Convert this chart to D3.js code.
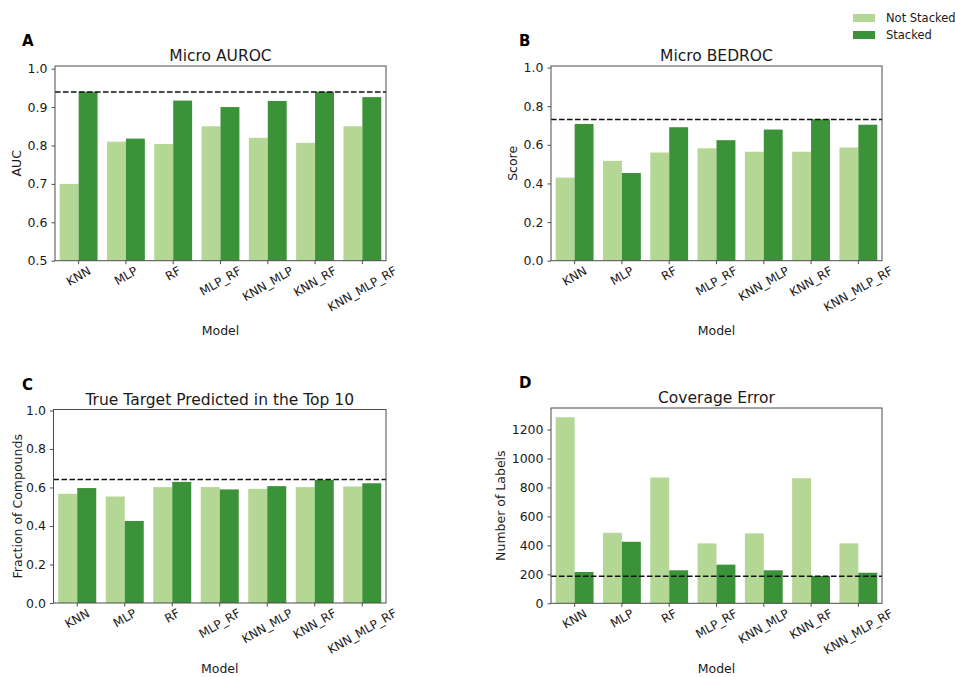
<!DOCTYPE html>
<html>
<head>
<meta charset="utf-8">
<script src="https://cdn.jsdelivr.net/npm/d3@7"></script>
<style>
  html, body { margin: 0; padding: 0; background: #fff; }
  svg { display: block; font-family: "DejaVu Sans", sans-serif; }
</style>
</head>
<body>
<svg id="chart" width="955" height="677"></svg>
<script>
// ---------- data ----------
const models = ["KNN", "MLP", "RF", "MLP_RF", "KNN_MLP", "KNN_RF", "KNN_MLP_RF"];
const seriesNames = ["Not Stacked", "Stacked"];

const aurocNotStacked = [0.700, 0.810, 0.804, 0.850, 0.820, 0.807, 0.850];
const aurocStacked    = [0.940, 0.818, 0.917, 0.900, 0.916, 0.940, 0.926];
const aurocRef = 0.939;

const bedrocNotStacked = [0.430, 0.517, 0.560, 0.582, 0.564, 0.564, 0.586];
const bedrocStacked    = [0.708, 0.454, 0.691, 0.624, 0.679, 0.732, 0.704];
const bedrocRef = 0.731;

const top10NotStacked = [0.567, 0.553, 0.602, 0.602, 0.593, 0.602, 0.605];
const top10Stacked    = [0.597, 0.426, 0.629, 0.590, 0.607, 0.640, 0.622];
const top10Ref = 0.641;

const coverageNotStacked = [1285, 487, 869, 414, 483, 864, 414];
const coverageStacked    = [216, 425, 228, 267, 228, 189, 211];
const coverageRef = 186;

const aurocTicks = [0.5, 0.6, 0.7, 0.8, 0.9, 1.0];
const fracTicks = [0.0, 0.2, 0.4, 0.6, 0.8, 1.0];
const coverageTicks = [0, 200, 400, 600, 800, 1000, 1200];

// ---------- styling / layout ----------
const colors = ["#b4d796", "#3c9239"];
const svg = d3.select("#chart");

const panels = [
  { letter: "A", title: "Micro AUROC", ylabel: "AUC", ns: aurocNotStacked, st: aurocStacked, ref: aurocRef,
    domain: [0.5, 1.007], ticks: aurocTicks, fmt: d3.format(".1f"),
    left: 55, right: 386, top: 66, bottom: 260.7, ylabelX: 17 },
  { letter: "B", title: "Micro BEDROC", ylabel: "Score", ns: bedrocNotStacked, st: bedrocStacked, ref: bedrocRef,
    domain: [0, 1.008], ticks: fracTicks, fmt: d3.format(".1f"),
    left: 551, right: 882, top: 66, bottom: 260.7, ylabelX: 513 },
  { letter: "C", title: "True Target Predicted in the Top 10", ylabel: "Fraction of Compounds", ns: top10NotStacked, st: top10Stacked, ref: top10Ref,
    domain: [0, 1.005], ticks: fracTicks, fmt: d3.format(".1f"),
    left: 53.5, right: 386, top: 409.5, bottom: 603, ylabelX: 17 },
  { letter: "D", title: "Coverage Error", ylabel: "Number of Labels", ns: coverageNotStacked, st: coverageStacked, ref: coverageRef,
    domain: [0, 1349], ticks: coverageTicks, fmt: d3.format("d"),
    left: 551, right: 882, top: 408, bottom: 603.3, ylabelX: 500.7 }
];

const textColor = "#1a1a1a";
const spineColor = "#4d4d4d";

panels.forEach(p => {
  const g = svg.append("g");
  const x = d3.scaleBand().domain(models).range([p.left, p.right]).paddingInner(0.2).paddingOuter(0.1);
  const xs = d3.scaleBand().domain(seriesNames).range([0, x.bandwidth()]);
  const y = d3.scaleLinear().domain(p.domain).range([p.bottom, p.top]);

  // bars
  const rows = models.map((m, i) => ({ m, vals: [p.ns[i], p.st[i]] }));
  const grp = g.selectAll("g.grp").data(rows).join("g").attr("class", "grp")
    .attr("transform", d => `translate(${x(d.m)},0)`);
  grp.selectAll("rect").data(d => d.vals.map((v, k) => ({ v, k })))
    .join("rect")
    .attr("x", d => xs(seriesNames[d.k]))
    .attr("width", xs.bandwidth())
    .attr("y", d => y(d.v))
    .attr("height", d => y(p.domain[0]) - y(d.v))
    .attr("fill", d => colors[d.k]);

  // reference dashed line
  g.append("line")
    .attr("x1", p.left).attr("x2", p.right)
    .attr("y1", y(p.ref)).attr("y2", y(p.ref))
    .attr("stroke", "#111").attr("stroke-width", 1.5)
    .attr("stroke-dasharray", "5.5,2.5");

  // frame
  g.append("rect")
    .attr("x", p.left).attr("y", p.top)
    .attr("width", p.right - p.left).attr("height", p.bottom - p.top)
    .attr("fill", "none").attr("stroke", spineColor).attr("stroke-width", 1);

  // y axis
  const yAxis = d3.axisLeft(y).tickValues(p.ticks).tickFormat(p.fmt).tickSize(3.5).tickPadding(4);
  const ya = g.append("g").attr("transform", `translate(${p.left},0)`).call(yAxis);
  ya.select(".domain").remove();
  ya.selectAll(".tick line").attr("stroke", spineColor);
  ya.selectAll(".tick text").attr("font-size", 12.5).attr("fill", textColor)
    .attr("font-family", "DejaVu Sans, sans-serif");

  // x axis ticks
  const xa = g.append("g").attr("transform", `translate(0,${p.bottom})`)
    .call(d3.axisBottom(x).tickSize(3.5).tickFormat(""));
  xa.select(".domain").remove();
  xa.selectAll(".tick line").attr("stroke", spineColor);

  // rotated x tick labels (centered rotated bbox under tick)
  const fs = 12;
  const ang = 30 * Math.PI / 180;
  models.forEach(m => {
    const t = g.append("text").text(m)
      .attr("font-size", fs).attr("fill", textColor)
      .attr("text-anchor", "middle").attr("dominant-baseline", "central");
    const w = t.node().getComputedTextLength();
    const bh = w * Math.sin(ang) + fs * Math.cos(ang);
    const cx = x(m) + x.bandwidth() / 2;
    const cy = p.bottom + 4 + bh / 2;
    t.attr("x", cx).attr("y", cy).attr("transform", `rotate(-30,${cx},${cy})`);
  });

  // x label
  g.append("text").text("Model")
    .attr("x", (p.left + p.right) / 2).attr("y", Math.min(p.bottom + 74, 673))
    .attr("text-anchor", "middle").attr("font-size", 12.5).attr("fill", textColor);

  // y label
  const ymid = (p.top + p.bottom) / 2;
  g.append("text").text(p.ylabel)
    .attr("x", p.ylabelX).attr("y", ymid)
    .attr("text-anchor", "middle").attr("dominant-baseline", "central")
    .attr("transform", `rotate(-90,${p.ylabelX},${ymid})`)
    .attr("font-size", 12.5).attr("fill", textColor);

  // title
  g.append("text").text(p.title)
    .attr("x", (p.left + p.right) / 2).attr("y", p.top - 5)
    .attr("text-anchor", "middle").attr("font-size", 15.5).attr("fill", textColor);

  // panel letter
  g.append("text").text(p.letter)
    .attr("x", p.letter === "A" || p.letter === "C" ? 22 : 519)
    .attr("y", p.top - 20)
    .attr("font-size", 15).attr("font-weight", "bold").attr("fill", "#000");
});

// legend
const legend = svg.append("g");
seriesNames.forEach((s, i) => {
  legend.append("rect")
    .attr("x", 853).attr("y", 14 + i * 17)
    .attr("width", 22).attr("height", 8)
    .attr("fill", colors[i]);
  legend.append("text").text(s)
    .attr("x", 886).attr("y", 18 + i * 17)
    .attr("dominant-baseline", "central")
    .attr("font-size", 11.5).attr("fill", textColor);
});
</script>
</body>
</html>
